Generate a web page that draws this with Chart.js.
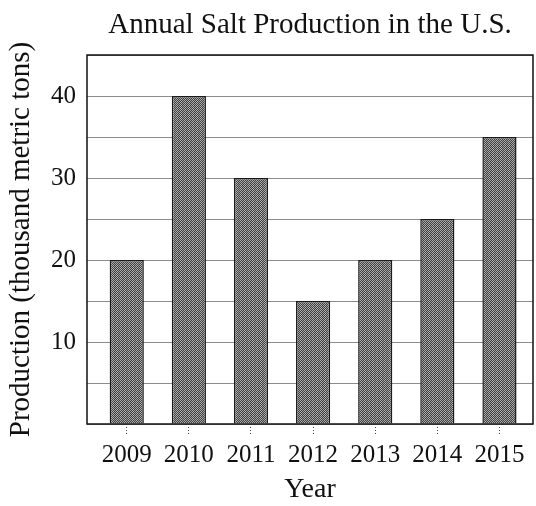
<!DOCTYPE html>
<html>
<head>
<meta charset="utf-8">
<script src="https://cdn.jsdelivr.net/npm/chart.js@4"></script>
<style>
html,body{margin:0;padding:0;background:#fff;}
#wrap{width:536px;height:506px;}
</style>
</head>
<body>
<div id="wrap"><canvas id="c" width="536" height="506"></canvas></div>
<script>
const years = [2009, 2010, 2011, 2012, 2013, 2014, 2015];
const production = [20, 40, 30, 15, 20, 25, 35];
const yTickLabels = [10, 20, 30, 40];
const chartTitle = 'Annual Salt Production in the U.S.';

const FONT = "'Liberation Serif', 'Times New Roman', serif";

function makePattern() {
  const p = document.createElement('canvas');
  p.width = 4; p.height = 4;
  const g = p.getContext('2d');
  g.fillStyle = '#404040'; g.fillRect(0,0,4,4);
  const light = ['#b0b0b0', '#a2a2a2', '#9c9c9c', '#b4b4b4'];
  for (let yy = 0; yy < 4; yy++) {
    for (let xx = 0; xx < 4; xx++) {
      if ((xx + yy) % 2 === 0) {
        g.fillStyle = light[(xx + 2 * yy) % 4];
        g.fillRect(xx, yy, 1, 1);
      }
    }
  }
  return g.createPattern(p, 'repeat');
}

const framePlugin = {
  id: 'frame',
  afterDatasetsDraw(chart) {
    const {ctx, chartArea: a} = chart;
    ctx.save();
    ctx.strokeStyle = '#111';
    ctx.lineWidth = 1.5;
    ctx.strokeRect(a.left, a.top, a.right - a.left, a.bottom - a.top);
    ctx.restore();
  }
};

const titlePlugin = {
  id: 'centredTitle',
  afterDraw(chart) {
    const {ctx, chartArea: a} = chart;
    ctx.save();
    ctx.fillStyle = '#111';
    ctx.font = "29px " + FONT;
    ctx.textAlign = 'center';
    ctx.textBaseline = 'alphabetic';
    ctx.fillText(chartTitle, (a.left + a.right) / 2, 33);
    ctx.restore();
  }
};

const ctx = document.getElementById('c').getContext('2d');
new Chart(ctx, {
  type: 'bar',
  data: {
    datasets: [{
      data: years.map((y, i) => ({x: y, y: production[i]})),
      backgroundColor: makePattern(),
      borderColor: '#1a1a1a',
      borderWidth: 1.5,
      barPercentage: 0.55,
      categoryPercentage: 1.0
    }]
  },
  options: {
    responsive: false,
    animation: false,
    devicePixelRatio: 1,
    layout: {padding: {left: 0, right: 3, top: 55, bottom: 0}},
    plugins: {
      legend: {display: false},
      tooltip: {enabled: false},
      title: {display: false}
    },
    scales: {
      x: {
        type: 'linear',
        min: 2008.36,
        max: 2015.54,
        offset: false,
        afterFit(s) { s.height = 82; },
        ticks: {
          stepSize: 1,
          includeBounds: false,
          autoSkip: false,
          maxRotation: 0,
          padding: 4,
          color: '#111',
          font: {family: FONT, size: 25},
          callback: (v) => years.includes(v) ? String(v) : ''
        },
        grid: {
          display: true,
          offset: false,
          drawOnChartArea: false,
          drawTicks: true,
          tickLength: 12,
          tickColor: '#444',
          tickBorderDash: [1, 2],
          tickWidth: 1
        },
        border: {display: false},
        title: {
          display: true,
          text: 'Year',
          color: '#111',
          font: {family: FONT, size: 28},
          padding: {top: 0, bottom: 0}
        }
      },
      y: {
        min: 0,
        max: 45,
        afterFit(s) { s.width = 87; },
        ticks: {
          stepSize: 5,
          padding: 11,
          color: '#111',
          font: {family: FONT, size: 25},
          callback: (v) => yTickLabels.includes(v) ? String(v) : ''
        },
        grid: {
          drawTicks: false,
          color: '#8c8c8c',
          lineWidth: 1,
          borderDash: [8, 1]
        },
        border: {display: false},
        title: {
          display: true,
          text: 'Production (thousand metric tons)',
          color: '#111',
          font: {family: FONT, size: 29},
          padding: {top: 4, bottom: 0}
        }
      }
    }
  },
  plugins: [framePlugin, titlePlugin]
});
</script>
</body>
</html>
